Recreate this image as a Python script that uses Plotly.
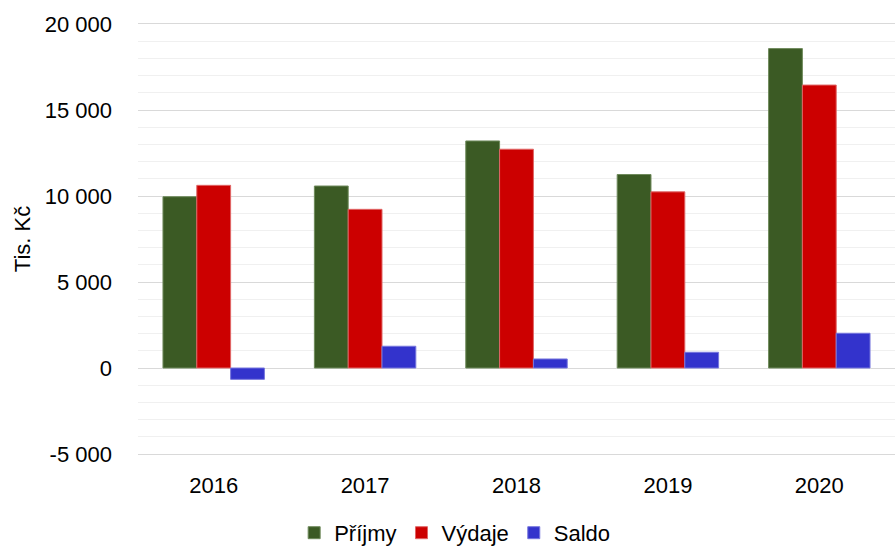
"""Příjmy, výdaje a saldo 2016–2020."""

import plotly.graph_objects as go

years = ["2016", "2017", "2018", "2019", "2020"]
prijmy = [9960, 10580, 13200, 11250, 18570]
vydaje = [10620, 9225, 12720, 10240, 16450]
saldo = [-660, 1265, 525, 915, 2020]

y_ticks = [-5000, 0, 5000, 10000, 15000, 20000]
y_labels = ["-5 000", "0", "5 000", "10 000", "15 000", "20 000"]

series = [
    ("Příjmy", prijmy, "#3b5a24", "#6f8a5c"),
    ("Výdaje", vydaje, "#cc0000", "#e06666"),
    ("Saldo", saldo, "#3333cc", "#7777dd"),
]

fig = go.Figure()
for name, vals, color, edge in series:
    fig.add_trace(
        go.Bar(
            x=years,
            y=vals,
            name=name,
            marker=dict(color=color, line=dict(color=edge, width=1)),
        )
    )

font = "Liberation Sans, Arial, sans-serif"
fig.update_layout(
    width=895,
    height=546,
    margin=dict(l=138, r=0, t=24, b=92),
    plot_bgcolor="white",
    paper_bgcolor="white",
    font=dict(family=font, size=22, color="#000000"),
    barmode="group",
    bargap=0.33,
    bargroupgap=0,
    showlegend=True,
    legend=dict(
        orientation="h",
        xref="container",
        yref="container",
        x=0.508,
        y=0.024,
        xanchor="center",
        yanchor="middle",
        font=dict(size=22),
        itemwidth=30,
        traceorder="normal",
    ),
    xaxis=dict(
        automargin=False,
        showgrid=False,
        showline=True,
        mirror=True,
        linecolor="#d9d9d9",
        linewidth=1,
        ticks="",
        tickfont=dict(size=22),
        ticklabelstandoff=12,
    ),
    yaxis=dict(
        automargin=False,
        title=dict(text="Tis. Kč", standoff=8, font=dict(size=22)),
        range=[-5000, 20000],
        tickvals=y_ticks,
        ticktext=y_labels,
        tickfont=dict(size=22),
        gridcolor="#d9d9d9",
        gridwidth=1,
        zeroline=False,
        ticks="",
        ticklabelstandoff=25,
        minor=dict(dtick=1000, showgrid=True, gridcolor="#f0f0f0", gridwidth=1),
    ),
)

fig.write_html(
    "out.html",
    config={"displayModeBar": False},
    post_script="document.body.style.margin='0';",
)
